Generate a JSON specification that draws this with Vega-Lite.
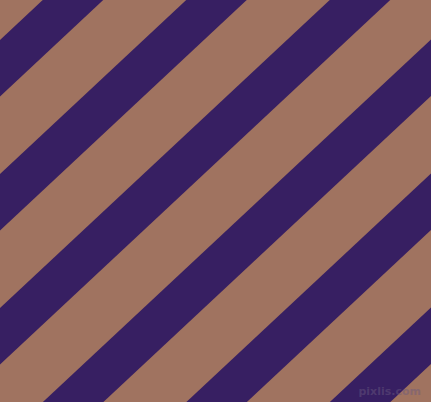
{
  "$schema": "https://vega.github.io/schema/vega-lite/v6.json",
  "width": 431,
  "height": 402,
  "padding": 0,
  "autosize": {"type": "fit", "contains": "padding"},
  "background": "#A07360",
  "config": {"view": {"stroke": null, "fill": "#A07360"}},
  "datasets": {
    "stripes": [
      {"stripe": 1, "x": -852.1, "y": -60, "x2": -293.3, "y2": 462},
      {"stripe": 2, "x": -708.6, "y": -60, "x2": -149.8, "y2": 462},
      {"stripe": 3, "x": -565.1, "y": -60, "x2": -6.3, "y2": 462},
      {"stripe": 4, "x": -421.6, "y": -60, "x2": 137.2, "y2": 462},
      {"stripe": 5, "x": -278.1, "y": -60, "x2": 280.7, "y2": 462},
      {"stripe": 6, "x": -134.6, "y": -60, "x2": 424.2, "y2": 462},
      {"stripe": 7, "x": 8.9, "y": -60, "x2": 567.7, "y2": 462},
      {"stripe": 8, "x": 152.4, "y": -60, "x2": 711.2, "y2": 462},
      {"stripe": 9, "x": 295.9, "y": -60, "x2": 854.7, "y2": 462}
    ],
    "mark": [
      {"label": "pixlis.com", "x": 421, "y": 5}
    ]
  },
  "layer": [
    {
      "data": {"name": "stripes"},
      "mark": {"type": "rule", "color": "#371F62", "strokeWidth": 41.3, "strokeCap": "butt", "clip": true},
      "encoding": {
        "x": {"field": "x", "type": "quantitative", "scale": {"domain": [0, 431], "nice": false, "zero": false}, "axis": null},
        "y": {"field": "y", "type": "quantitative", "scale": {"domain": [0, 402], "nice": false, "zero": false}, "axis": null},
        "x2": {"field": "x2"},
        "y2": {"field": "y2"}
      }
    },
    {
      "data": {"name": "mark"},
      "mark": {"type": "text", "align": "right", "baseline": "bottom", "fontSize": 11, "fontWeight": "bold", "font": "DejaVu Sans", "color": "#6A5A80", "opacity": 0.45},
      "encoding": {
        "x": {"field": "x", "type": "quantitative", "scale": {"domain": [0, 431], "nice": false, "zero": false}, "axis": null},
        "y": {"field": "y", "type": "quantitative", "scale": {"domain": [0, 402], "nice": false, "zero": false}, "axis": null},
        "text": {"field": "label"}
      }
    }
  ]
}
